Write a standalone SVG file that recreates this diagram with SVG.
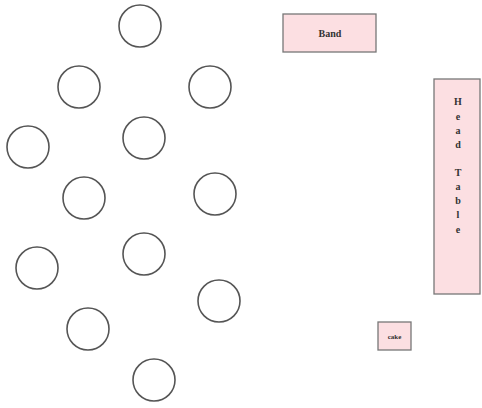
<svg xmlns="http://www.w3.org/2000/svg" width="482" height="408" viewBox="0 0 482 408">
<style>
.t{fill:none;stroke:#555;stroke-width:1.6}
.b{fill:#fcdfe2;stroke:#777;stroke-width:1.3}
.l{font-family:"Liberation Serif",serif;font-weight:bold;fill:#333;text-anchor:middle}
</style>
<rect width="482" height="408" fill="#fff"/>
<g id="tables">
<g id="t1"><circle class="t" cx="140" cy="26" r="21"/></g>
<g id="t2"><circle class="t" cx="79" cy="87" r="21"/></g>
<g id="t3"><circle class="t" cx="210" cy="87" r="21"/></g>
<g id="t4"><circle class="t" cx="28" cy="147" r="21"/></g>
<g id="t5"><circle class="t" cx="144" cy="138" r="21"/></g>
<g id="t6"><circle class="t" cx="84" cy="198" r="21"/></g>
<g id="t7"><circle class="t" cx="215" cy="194" r="21"/></g>
<g id="t8"><circle class="t" cx="37" cy="268" r="21"/></g>
<g id="t9"><circle class="t" cx="144" cy="254" r="21"/></g>
<g id="t10"><circle class="t" cx="219" cy="301" r="21"/></g>
<g id="t11"><circle class="t" cx="88" cy="329" r="21"/></g>
<g id="t12"><circle class="t" cx="154" cy="380" r="21"/></g>
</g>
<g id="band"><rect class="b" x="283" y="14" width="93" height="38"/><text class="l" x="330" y="37" font-size="10">Band</text></g>
<g id="head-table"><rect class="b" x="434" y="79" width="46" height="215"/>
<text class="l" x="458" font-size="10"><tspan x="458" y="105">H</tspan><tspan x="458" y="120">e</tspan><tspan x="458" y="134">a</tspan><tspan x="458" y="148">d</tspan><tspan x="458" y="176">T</tspan><tspan x="458" y="190">a</tspan><tspan x="458" y="204">b</tspan><tspan x="458" y="218">l</tspan><tspan x="458" y="233">e</tspan></text></g>
<g id="cake"><rect class="b" x="378" y="322" width="33" height="28"/><text class="l" x="394.5" y="339" font-size="7">cake</text></g>
<g id="connectors"/>
</svg>
